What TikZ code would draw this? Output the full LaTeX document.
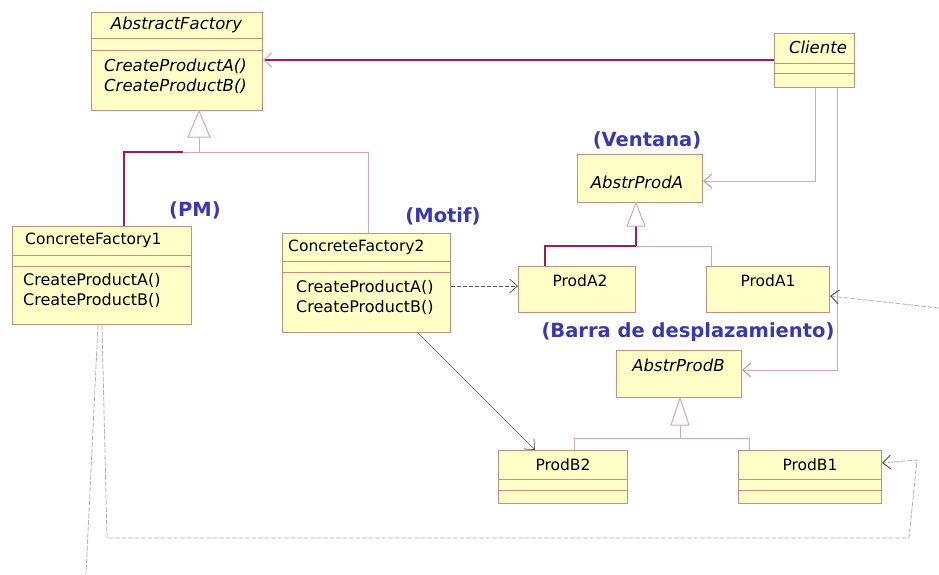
\documentclass[tikz,border=0pt]{standalone}
\usepackage{fontspec}
\setmainfont{DejaVu Sans}
\usetikzlibrary{arrows.meta}

\definecolor{boxfill}{HTML}{FFFFC8}
\definecolor{boxline}{HTML}{C8907C}
\definecolor{maroon}{HTML}{A31C4C}
\definecolor{palepink}{HTML}{D8A8B6}
\definecolor{labelblue}{HTML}{3838B0}
\definecolor{depgray}{HTML}{555555}

\tikzset{
  umlbox/.style={draw=boxline, fill=boxfill, line width=1pt, inner sep=0pt, anchor=north west},
  divider/.style={draw=boxline, line width=1pt},
  cname/.style={font=\fontsize{15.5}{17}\selectfont, inner sep=0pt},
  aname/.style={font=\fontsize{16.5}{18}\selectfont\itshape, inner sep=0pt},
  opline/.style={font=\fontsize{15.5}{17}\selectfont, inner sep=0pt, anchor=west},
  opwide/.style={font=\fontsize{16}{18}\selectfont, inner sep=0pt, anchor=west},
  aopline/.style={font=\fontsize{16.5}{18}\selectfont\itshape, inner sep=0pt, anchor=west},
  note/.style={font=\fontsize{19.5}{22}\selectfont\bfseries, text=labelblue, inner sep=0pt},
  openarrow/.style={-{Straight Barb[length=8pt,width=14pt]}},
  assoc/.style={draw=maroon, line width=1.5pt},
  genline/.style={draw=palepink, line width=1pt},
  gendark/.style={draw=maroon, line width=1.5pt},
  genhead/.style={draw=palepink, fill=white, line width=1pt},
  nav/.style={draw=palepink, line width=1pt, arrows={-{Straight Barb[length=8pt,width=14pt,color=gray!70]}}},
  dep/.style={draw=depgray, line width=0.7pt, dash pattern=on 4pt off 2pt, openarrow},
  depfade/.style={draw=gray!60, line width=0.8pt, dash pattern=on 5pt off 1.5pt},
}

\begin{document}
\begin{tikzpicture}[x=1pt,y=-1pt]
\useasboundingbox (0,0) rectangle (939,574);

% ---------- classes ----------
% AbstractFactory
\node[umlbox, minimum width=171pt, minimum height=98pt] (af) at (91,12) {};
\draw[divider] (91,38) -- (262,38) (91,50) -- (262,50);
\node[aname] at (176.5,25) {AbstractFactory};
\node[aopline] at (104,66) {CreateProductA()};
\node[aopline] at (104,86) {CreateProductB()};

% Cliente
\node[umlbox, minimum width=80pt, minimum height=54pt] (cli) at (774,33) {};
\draw[divider] (774,63) -- (854,63) (774,73) -- (854,73);
\node[aname] at (818,47) {Cliente};

% ConcreteFactory1
\node[umlbox, minimum width=179pt, minimum height=98pt] (cf1) at (12,226) {};
\draw[divider] (12,255) -- (191,255) (12,266) -- (191,266);
\node[opline] at (25,240) {ConcreteFactory1};
\node[opwide] at (23,280) {CreateProductA()};
\node[opwide] at (23,300) {CreateProductB()};

% ConcreteFactory2
\node[umlbox, minimum width=168pt, minimum height=99pt] (cf2) at (282,233) {};
\draw[divider] (282,261) -- (450,261) (282,272) -- (450,272);
\node[opline] at (288,247) {ConcreteFactory2};
\node[opwide] at (296,287) {CreateProductA()};
\node[opwide] at (296,307) {CreateProductB()};

% AbstrProdA
\node[umlbox, minimum width=125pt, minimum height=48pt] (apa) at (577,154) {};
\node[aname] at (637,182) {AbstrProdA};

% ProdA2, ProdA1
\node[umlbox, minimum width=117pt, minimum height=46pt] (pa2) at (518,266) {};
\node[cname] at (580,281) {ProdA2};
\node[umlbox, minimum width=123pt, minimum height=46pt] (pa1) at (706,266) {};
\node[cname] at (768,281) {ProdA1};

% AbstrProdB
\node[umlbox, minimum width=125pt, minimum height=47pt] (apb) at (616,350) {};
\node[aname] at (678.5,365) {AbstrProdB};

% ProdB2, ProdB1
\node[umlbox, minimum width=129pt, minimum height=53pt] (pb2) at (498,450) {};
\draw[divider] (498,479) -- (627,479) (498,490) -- (627,490);
\node[cname] at (563,465) {ProdB2};
\node[umlbox, minimum width=143pt, minimum height=53pt] (pb1) at (738,450) {};
\draw[divider] (738,479) -- (881,479) (738,490) -- (881,490);
\node[cname] at (810,465) {ProdB1};

% ---------- blue notes ----------
\node[note] (npm) at (195,210) {(PM)};
\node[note] (nmotif) at (443,216) {(Motif)};
\node[note] (nvent) at (647,140) {(Ventana)};
\node[note] (nbarra) at (688,332) {(Barra de desplazamiento)};

% ---------- association: Cliente -> AbstractFactory ----------
\draw[assoc, arrows={-{Straight Barb[length=8pt,width=14pt,color=palepink,line width=1pt]}}]
  (cli.west |- 0,60) -- (af.east |- 0,60);

% ---------- navigations from Cliente ----------
\draw[nav] (cli.south -| 815,0) |- (apa.east |- 0,181);
\draw[nav] (cli.south -| 837,0) |- (apb.east |- 0,370);

% ---------- generalization to AbstractFactory ----------
\coordinate (afbase) at (199,137);
\coordinate (afjoin) at (199,152);
\draw[gendark] (cf1.north -| 124,0) |- (183,152);
\draw[genline] (183,152) -| (cf2.north -| 368,0);
\draw[genline] (afbase) -- (afjoin);
\draw[genhead] (af.south -| 199,0) -- (210,137) -- (188,137) -- cycle;

% ---------- generalization to AbstrProdA ----------
\coordinate (apabase) at (636,226);
\draw[gendark] (apabase) -- (636,246);
\draw[gendark] (pa2.north -| 545,0) |- (636,246);
\draw[genline] (636,246) -| (pa1.north -| 711,0);
\draw[genhead] (apa.south -| 636,0) -- (645,226) -- (627,226) -- cycle;

% ---------- generalization to AbstrProdB ----------
\coordinate (apbbase) at (680,425);
\draw[genline] (apbbase) -- (680,438);
\draw[genline] (pb2.north -| 574,0) |- (680,438) -| (pb1.north -| 749,0);
\draw[genhead] (apb.south -| 680,0) -- (689,425) -- (671,425) -- cycle;

% ---------- dependencies ----------
\draw[dep] (cf2.east |- 0,286) -- (pa2.west |- 0,286);
\draw[draw=depgray, line width=0.7pt, openarrow] (cf2.south -| 418,0) -- (pb2.north -| 535,0);

% ConcreteFactory1 -> ProdB1
\draw[depfade, arrows={-{Straight Barb[length=8pt,width=14pt,color=depgray,line width=1pt]}}]
  (cf1.south -| 102,0) -- (107,538) -- (909,538) -- (917,460) -- (pb1.east |- 0,463);

% ConcreteFactory1 -> ProdA1 (routed around the page edge)
\coordinate (wrapL) at (86,574);
\coordinate (wrapR) at (939,308);
\draw[depfade] (cf1.south -| 98,0) -- (wrapL);
\draw[depfade, arrows={-{Straight Barb[length=8pt,width=14pt,color=depgray,line width=1pt]}}]
  (wrapR) -- (pa1.east |- 0,296);
\end{tikzpicture}
\end{document}
